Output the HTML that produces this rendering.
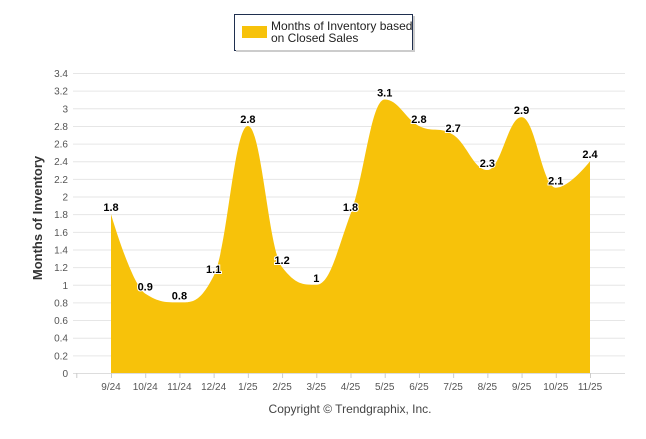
<!DOCTYPE html>
<html><head><meta charset="utf-8"><style>
body{margin:0;background:#fff;font-family:"Liberation Sans",Arial,sans-serif}
svg text{font-family:"Liberation Sans",Arial,sans-serif}
</style></head><body>
<svg id="c" width="646" height="434" viewBox="0 0 646 434">
<rect x="0" y="0" width="646" height="434" fill="#fff"/>
<g>
<rect x="234.5" y="14.5" width="178" height="36" fill="#fff" stroke="#1f2f4f" stroke-width="1"/>
<rect x="236" y="50" width="177" height="2" fill="#ccc"/>
<rect x="413" y="16" width="2" height="36" fill="#ccc"/>
<rect x="242" y="26" width="25" height="12" fill="#f7c20a"/>
<text x="271" y="30" font-size="12" fill="#222">Months of Inventory based</text>
<text x="271" y="42" font-size="12" fill="#222">on Closed Sales</text>
</g>
<g id="grid"></g>
<g id="area"></g>
<g id="xaxis"></g>
<g id="labels"></g>
<text transform="translate(42,218) rotate(-90)" text-anchor="middle" font-size="13" font-weight="bold" fill="#333">Months of Inventory</text>
<text x="350" y="413" text-anchor="middle" font-size="12" fill="#444">Copyright © Trendgraphix, Inc.</text>
</svg>
<script>
const categories=["9/24","10/24","11/24","12/24","1/25","2/25","3/25","4/25","5/25","6/25","7/25","8/25","9/25","10/25","11/25"];
const values=[1.8,0.9,0.8,1.1,2.8,1.2,1,1.8,3.1,2.8,2.7,2.3,2.9,2.1,2.4];
const yTicks=[0,0.2,0.4,0.6,0.8,1,1.2,1.4,1.6,1.8,2,2.2,2.4,2.6,2.8,3,3.2,3.4];
const NS="http://www.w3.org/2000/svg";
const y0=373,y1=73,ymax=3.4,left=73,right=625;
const x0=111,step=(590-111)/14;
function xs(i){return x0+i*step;}
function ys(v){return y0-(v/ymax)*(y0-y1);}
function mk(t,a,p){const e=document.createElementNS(NS,t);for(const k in a)e.setAttribute(k,a[k]);(p||document.getElementById('c')).appendChild(e);return e;}
const grid=document.getElementById('grid');
yTicks.forEach(v=>{
  const l=mk('line',{x1:left,x2:right,y1:ys(v)+0.5,y2:ys(v)+0.5,stroke:'#e6e6e6','stroke-width':1},grid);
  
  
  const t=mk('text',{x:68,y:ys(v)+4,'text-anchor':'end','font-size':10,fill:'#555'},grid);
  t.textContent=String(v);
  
  
});
// Highcharts-like spline
const pts=values.map((v,i)=>[xs(i),ys(v)]);
function ctrl(i){
  const s=1.5,d=s+1,p=pts[i],a=pts[i-1],b=pts[i+1];
  let lx=(s*p[0]+a[0])/d,ly=(s*p[1]+a[1])/d,rx=(s*p[0]+b[0])/d,ry=(s*p[1]+b[1])/d;
  if(rx!==lx){const c=((ry-ly)*(rx-p[0]))/(rx-lx)+p[1]-ry;ly+=c;ry+=c;}
  if(ly>Math.max(a[1],p[1])){ly=Math.max(a[1],p[1]);ry=2*p[1]-ly;}
  else if(ly<Math.min(a[1],p[1])){ly=Math.min(a[1],p[1]);ry=2*p[1]-ly;}
  if(ry>Math.max(b[1],p[1])){ry=Math.max(b[1],p[1]);ly=2*p[1]-ry;}
  else if(ry<Math.min(b[1],p[1])){ry=Math.min(b[1],p[1]);ly=2*p[1]-ry;}
  return {l:[lx,ly],r:[rx,ry]};
}
const C=pts.map((p,i)=>(i>0&&i<pts.length-1)?ctrl(i):{l:p,r:p});
let d=`M${pts[0][0]},${y0} L${pts[0][0]},${pts[0][1]}`;
for(let i=1;i<pts.length;i++){
  const a=C[i-1].r,b=C[i].l;
  d+=` C${a[0]},${a[1]} ${b[0]},${b[1]} ${pts[i][0]},${pts[i][1]}`;
}
d+=` L${pts[pts.length-1][0]},${y0} Z`;
const area=mk('path',{d:d,fill:'#f7c20a'},document.getElementById('area'));


const xa=document.getElementById('xaxis');
mk('line',{x1:left,x2:right,y1:y0+0.5,y2:y0+0.5,stroke:'#ddd'},xa);
mk('line',{x1:x0-step,x2:x0-step,y1:y0,y2:y0+5,stroke:'#ccc'},xa);
categories.forEach((c,i)=>{
  mk('line',{x1:xs(i)+0.5,x2:xs(i)+0.5,y1:y0,y2:y0+5,stroke:'#ccc'},xa);
  const t=mk('text',{x:xs(i),y:y0+17,'text-anchor':'middle','font-size':10,fill:'#555'},xa);
  t.textContent=c;
  
  
});
const lb=document.getElementById('labels');
values.forEach((v,i)=>{
  const t=mk('text',{x:xs(i),y:ys(v)-3,'text-anchor':'middle','font-size':11,'font-weight':'bold',fill:'#000',stroke:'#fff','stroke-width':2,'paint-order':'stroke'},lb);
  t.textContent=String(v);
  
  
});
</script>
</body></html>
